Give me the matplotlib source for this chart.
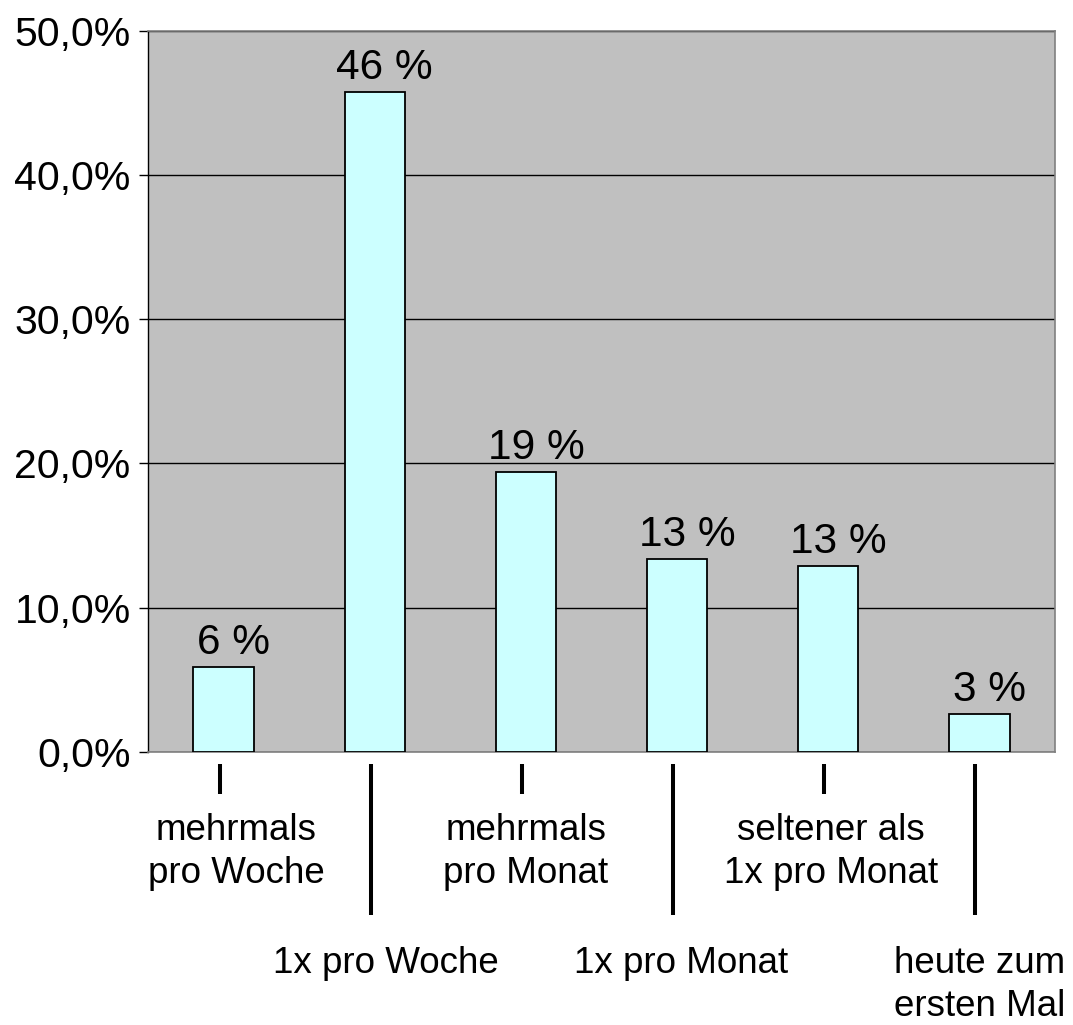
import matplotlib
matplotlib.use("Agg")
import matplotlib.pyplot as plt
from matplotlib.transforms import blended_transform_factory
from matplotlib.lines import Line2D

plt.rcParams['font.family'] = ['Liberation Sans', 'DejaVu Sans']

categories = ["mehrmals\npro Woche", "1x pro Woche", "mehrmals\npro Monat",
              "1x pro Monat", "seltener als\n1x pro Monat", "heute zum\nersten Mal"]
values = [5.85, 45.8, 19.4, 13.35, 12.9, 2.65]
value_labels = ["6 %", "46 %", "19 %", "13 %", "13 %", "3 %"]
yticks = [0, 10, 20, 30, 40, 50]
ytick_labels = ["0,0%", "10,0%", "20,0%", "30,0%", "40,0%", "50,0%"]

W, H, DPI = 1073, 1025, 100
fig = plt.figure(figsize=(W / DPI, H / DPI), dpi=DPI)
ax_l, ax_r, ax_t, ax_b = 148, 1055, 31, 751.7
ax = fig.add_axes([ax_l / W, 1 - ax_b / H, (ax_r - ax_l) / W, (ax_b - ax_t) / H])
ax_h_px = ax_b - ax_t

ax.set_facecolor('#C0C0C0')
x = list(range(len(categories)))
bar_w = 0.4
ax.bar(x, values, width=bar_w, color='#CCFFFF', edgecolor='black', linewidth=1.3, zorder=3)

ax.set_xlim(-0.5, len(categories) - 0.5)
ax.set_ylim(0, 50)
ax.set_yticks(yticks)
ax.set_yticklabels(ytick_labels, fontsize=29.5)
ax.tick_params(axis='y', direction='out', length=6.5, width=1, color='black', pad=6)
ax.set_xticks([])
ax.yaxis.grid(True, color='black', linewidth=1)
ax.set_axisbelow(True)

for side in ['top', 'right', 'bottom']:
    ax.spines[side].set_color('#808080')
    ax.spines[side].set_linewidth(1.2)
ax.spines['left'].set_color('black')
ax.spines['left'].set_linewidth(1)

# value labels
for xi, v, lab in zip(x, values, value_labels):
    ax.annotate(lab, xy=(xi, v), xytext=(10, 13), textcoords='offset pixels',
                ha='center', va='baseline', fontsize=30.5, zorder=4)

# category labels with separator strokes
trans = blended_transform_factory(ax.transData, ax.transAxes)
label_dx = [13, 11, 0, 4, 3, 0]
for i, (xi, cat) in enumerate(zip(x, categories)):
    odd = (i % 2 == 0)
    y0 = 12
    y1 = 42 if odd else 163
    line_dx = -4 / ((ax_r - ax_l) / len(categories))
    ln = Line2D([xi + line_dx, xi + line_dx], [-y0 / ax_h_px, -y1 / ax_h_px],
                transform=trans, color='black', linewidth=2.9, clip_on=False,
                solid_capstyle='butt')
    ax.add_line(ln)
    ty = 61 if odd else 194
    ax.annotate(cat, xy=(xi, 0), xycoords=trans, xytext=(label_dx[i], -ty),
                textcoords='offset pixels', ha='center', va='top',
                fontsize=26.5, linespacing=1.3, multialignment='center',
                annotation_clip=False)

fig.savefig('out.png', dpi=DPI)
